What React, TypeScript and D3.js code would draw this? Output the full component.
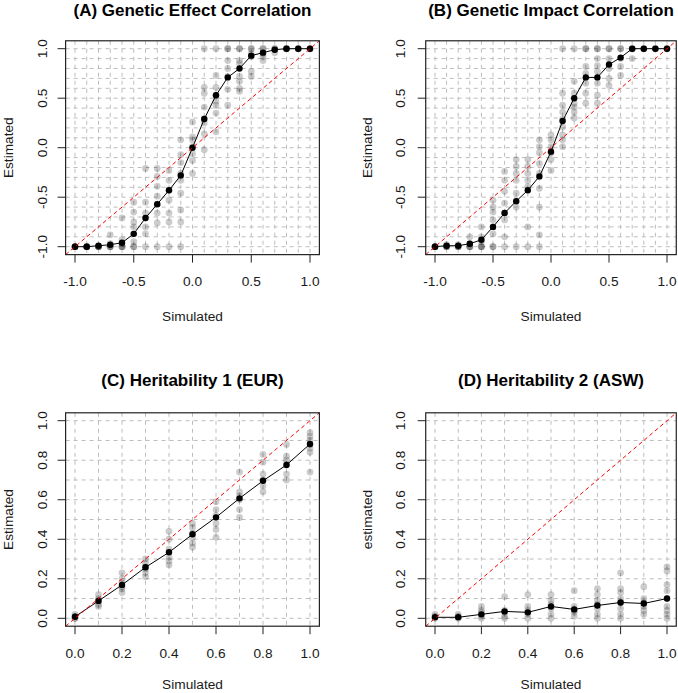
import React from "react";
import * as d3 from "d3";

// ---------- DATA ----------
const corrX = [-1, -0.9, -0.8, -0.7, -0.6, -0.5, -0.4, -0.3, -0.2, -0.1, 0, 0.1, 0.2, 0.3, 0.4, 0.5, 0.6, 0.7, 0.8, 0.9, 1];
const herX = [0, 0.1, 0.2, 0.3, 0.4, 0.5, 0.6, 0.7, 0.8, 0.9, 1];

const corrTicks = [-1, -0.5, 0, 0.5, 1];
const herTicks = [0, 0.2, 0.4, 0.6, 0.8, 1];

const meanA = [-1, -1, -0.99, -0.98, -0.96, -0.87, -0.71, -0.57, -0.43, -0.28, 0.0, 0.29, 0.53, 0.71, 0.8, 0.93, 0.96, 0.99, 1, 1, 1];
const repsA = [
  [-1, -1, -1, -1],
  [-1, -1, -1, -1],
  [-1, -1, -1, -1],
  [-1, -1, -1, -0.88, -0.97],
  [-0.71, -0.93, -0.97, -1, -1, -1],
  [-0.55, -0.65, -0.75, -0.8, -0.87, -0.95, -1, -1],
  [-0.21, -0.55, -0.66, -0.71, -0.8, -0.87, -1],
  [-0.21, -0.29, -0.39, -0.49, -0.57, -0.66, -0.76, -1],
  [-0.23, -0.33, -0.43, -0.53, -0.66, -0.75, -1],
  [0.08, -0.07, -0.15, -0.26, -0.33, -0.46, -0.63, -0.75, -1],
  [0.26, 0.11, 0.08, 0.01, -0.06, -0.13, -0.26],
  [1.0, 0.61, 0.55, 0.41, 0.29, 0.25, 0.14, -0.02],
  [1.0, 0.73, 0.61, 0.53, 0.47, 0.43, 0.35, 0.16],
  [1.0, 1.0, 0.88, 0.8, 0.72, 0.59, 0.43],
  [1.0, 1.0, 0.88, 0.85, 0.72, 0.67, 0.6, 0.57],
  [1.0, 1.0, 0.95, 0.92, 0.77, 0.72],
  [1.0, 1.0, 0.95, 0.92, 0.88],
  [1.0, 1.0, 0.96],
  [1, 1, 1],
  [1, 1],
  [1, 1],
];

const meanB = [-1, -0.99, -0.99, -0.97, -0.93, -0.8, -0.66, -0.54, -0.43, -0.29, -0.04, 0.27, 0.5, 0.71, 0.71, 0.84, 0.91, 1, 1, 1, 1];
const repsB = [
  [-1, -1, -1, -1],
  [-1, -1, -1, -0.98],
  [-1, -1, -1, -0.98],
  [-0.9, -0.97, -1, -1, -1],
  [-0.8, -0.9, -0.95, -1, -1, -1],
  [-0.53, -0.6, -0.65, -0.73, -0.8, -0.87, -1, -1],
  [-0.24, -0.33, -0.44, -0.56, -0.66, -0.73, -0.9, -1],
  [-0.12, -0.19, -0.26, -0.33, -0.46, -0.6, -1],
  [-0.12, -0.19, -0.26, -0.33, -0.39, -0.8, -1],
  [0.08, 0.01, -0.05, -0.16, -0.26, -0.41, -0.6, -0.88, -1],
  [0.13, 0.08, 0.01, -0.05, -0.12, -0.23],
  [1.0, 0.55, 0.43, 0.36, 0.29, 0.21, 0.13, 0.08, 0.01],
  [1.0, 0.67, 0.55, 0.45, 0.41, 0.36, 0.3],
  [1.0, 1.0, 0.82, 0.75, 0.65, 0.55, 0.45],
  [1.0, 1.0, 0.9, 0.83, 0.77, 0.65, 0.53, 0.45],
  [1.0, 1.0, 0.9, 0.8, 0.7, 0.63],
  [1.0, 1.0, 0.9, 0.82, 0.73],
  [1.0, 1.0, 0.9],
  [1, 1],
  [1, 1],
  [1, 1],
];

const meanC = [0.008, 0.088, 0.169, 0.258, 0.334, 0.425, 0.511, 0.607, 0.696, 0.776, 0.882];
const repsC = [
  [0, 0.01, 0.02, 0.0],
  [0.06, 0.07, 0.09, 0.1, 0.12],
  [0.13, 0.15, 0.16, 0.18, 0.2, 0.23],
  [0.21, 0.23, 0.25, 0.26, 0.28, 0.3],
  [0.27, 0.29, 0.31, 0.35, 0.4, 0.44],
  [0.36, 0.38, 0.41, 0.43, 0.46, 0.48],
  [0.41, 0.45, 0.48, 0.52, 0.55, 0.59],
  [0.51, 0.55, 0.6, 0.62, 0.64, 0.74],
  [0.64, 0.67, 0.7, 0.73, 0.79, 0.83],
  [0.7, 0.73, 0.78, 0.8, 0.82, 0.88],
  [0.74, 0.84, 0.86, 0.88, 0.9, 0.92, 0.94],
];

const meanD = [0.005, 0.005, 0.02, 0.035, 0.03, 0.06, 0.045, 0.065, 0.08, 0.075, 0.1];
const repsD = [
  [0, 0.01, 0.02],
  [0, 0.01, 0.02],
  [0, 0.01, 0.03, 0.04, 0.06],
  [0, 0.01, 0.03, 0.04, 0.11],
  [0, 0.02, 0.04, 0.06, 0.12],
  [0, 0.02, 0.05, 0.07, 0.09, 0.12],
  [0.01, 0.03, 0.04, 0.06, 0.14],
  [0, 0.02, 0.05, 0.07, 0.09, 0.12, 0.15],
  [0, 0.02, 0.05, 0.08, 0.1, 0.13, 0.15, 0.23],
  [0.02, 0.04, 0.06, 0.08, 0.1, 0.16],
  [0, 0.02, 0.04, 0.06, 0.1, 0.14, 0.17, 0.24, 0.26],
];

const titles = ["(A) Genetic Effect Correlation", "(B) Genetic Impact Correlation", "(C) Heritability 1 (EUR)", "(D) Heritability 2 (ASW)"];
const xLabels = ["Simulated", "Simulated", "Simulated", "Simulated"];
const yLabels = ["Estimated", "Estimated", "Estimated", "estimated"];

// ---------- LAYOUT ----------
type PanelCfg = {
  title: string; xl: string; yl: string;
  xs: number[]; means: number[]; reps: number[][];
  domain: [number, number]; ticks: number[];
  xr: [number, number]; yr: [number, number];
  titleY: number; tickY: number; labY: number;
  yTickX: number; yLabX: number;
};

const FONT = "'Liberation Sans', Arial, sans-serif";
const TXT = "#1a1a1a";

function Panel({ p }: { p: PanelCfg }) {
  const x = d3.scaleLinear().domain(p.domain).range(p.xr);
  const y = d3.scaleLinear().domain(p.domain).range(p.yr);
  const span = p.domain[1] - p.domain[0];
  const lo = p.domain[0] - 0.04 * span;
  const hi = p.domain[1] + 0.04 * span;
  const bx0 = x(lo), bx1 = x(hi), by0 = y(hi), by1 = y(lo);
  const grid = p.xs;
  const line = d3.line<number>().x((_, i) => x(p.xs[i])).y((d) => y(d));
  const cx = (bx0 + bx1) / 2;
  const cy = (by0 + by1) / 2;
  const clipId = "clip" + p.title.slice(1, 2);
  return (
    <g>
      <defs>
        <clipPath id={clipId}>
          <rect x={bx0} y={by0} width={bx1 - bx0} height={by1 - by0} />
        </clipPath>
      </defs>
      <g clipPath={`url(#${clipId})`}>
        {grid.map((g, i) => (
          <line key={"gv" + i} x1={x(g)} x2={x(g)} y1={by0} y2={by1} stroke="#bdbdbd" strokeWidth={1} strokeDasharray="4,4" />
        ))}
        {grid.map((g, i) => (
          <line key={"gh" + i} x1={bx0} x2={bx1} y1={y(g)} y2={y(g)} stroke="#bdbdbd" strokeWidth={1} strokeDasharray="4,4" />
        ))}
        {p.reps.map((arr, i) =>
          arr.map((v, j) => (
            <circle key={`r${i}-${j}`} cx={x(p.xs[i])} cy={y(v)} r={3.4} fill="rgba(0,0,0,0.2)" />
          ))
        )}
        <path d={line(p.means) || ""} fill="none" stroke="#000" strokeWidth={1} />
        {p.means.map((v, i) => (
          <circle key={"m" + i} cx={x(p.xs[i])} cy={y(v)} r={3.2} fill="#000" />
        ))}
        <line x1={x(lo)} y1={y(lo)} x2={x(hi)} y2={y(hi)} stroke="#ff0000" strokeWidth={1} strokeDasharray="4,3" />
      </g>
      <rect x={bx0} y={by0} width={bx1 - bx0} height={by1 - by0} fill="none" stroke="#222" strokeWidth={1.2} />
      {p.ticks.map((t, i) => (
        <g key={"xt" + i}>
          <line x1={x(t)} x2={x(t)} y1={by1} y2={by1 + 8} stroke="#222" />
          <text x={x(t)} y={p.tickY} textAnchor="middle" fontSize={13.7} fontFamily={FONT} fill={TXT}>{t.toFixed(1)}</text>
        </g>
      ))}
      {p.ticks.map((t, i) => (
        <g key={"yt" + i}>
          <line x1={bx0 - 8} x2={bx0} y1={y(t)} y2={y(t)} stroke="#222" />
          <text transform={`translate(${p.yTickX},${y(t)}) rotate(-90)`} textAnchor="middle" fontSize={13.7} fontFamily={FONT} fill={TXT}>{t.toFixed(1)}</text>
        </g>
      ))}
      <text x={cx} y={p.titleY} textAnchor="middle" fontSize={17} fontWeight="bold" fontFamily={FONT} fill="#000">{p.title}</text>
      <text x={cx} y={p.labY} textAnchor="middle" fontSize={13.7} fontFamily={FONT} fill={TXT}>{p.xl}</text>
      <text transform={`translate(${p.yLabX},${cy}) rotate(-90)`} textAnchor="middle" fontSize={13.7} fontFamily={FONT} fill={TXT}>{p.yl}</text>
    </g>
  );
}

export default function App() {
  const panels: PanelCfg[] = [
    { title: titles[0], xl: xLabels[0], yl: yLabels[0], xs: corrX, means: meanA, reps: repsA, domain: [-1, 1], ticks: corrTicks, xr: [75, 310], yr: [246.7, 48.7], titleY: 15.5, tickY: 286, labY: 320.5, yTickX: 46.5, yLabX: 13.3 },
    { title: titles[1], xl: xLabels[1], yl: yLabels[1], xs: corrX, means: meanB, reps: repsB, domain: [-1, 1], ticks: corrTicks, xr: [435, 667], yr: [246.7, 48.7], titleY: 15.5, tickY: 286, labY: 320.5, yTickX: 405, yLabX: 371.7 },
    { title: titles[2], xl: xLabels[2], yl: yLabels[2], xs: herX, means: meanC, reps: repsC, domain: [0, 1], ticks: herTicks, xr: [75, 310], yr: [618.3, 420.7], titleY: 385.5, tickY: 657.5, labY: 689, yTickX: 46.5, yLabX: 13.3 },
    { title: titles[3], xl: xLabels[3], yl: yLabels[3], xs: herX, means: meanD, reps: repsD, domain: [0, 1], ticks: herTicks, xr: [435, 667], yr: [618.3, 420.7], titleY: 385.5, tickY: 657.5, labY: 689, yTickX: 405, yLabX: 371.7 },
  ];
  return (
    <svg width={678} height={693} style={{ position: "absolute", left: 0, top: 0, background: "#fff" }}>
      <rect x={0} y={0} width={678} height={693} fill="#fff" />
      {panels.map((p, i) => (
        <Panel key={i} p={p} />
      ))}
    </svg>
  );
}
